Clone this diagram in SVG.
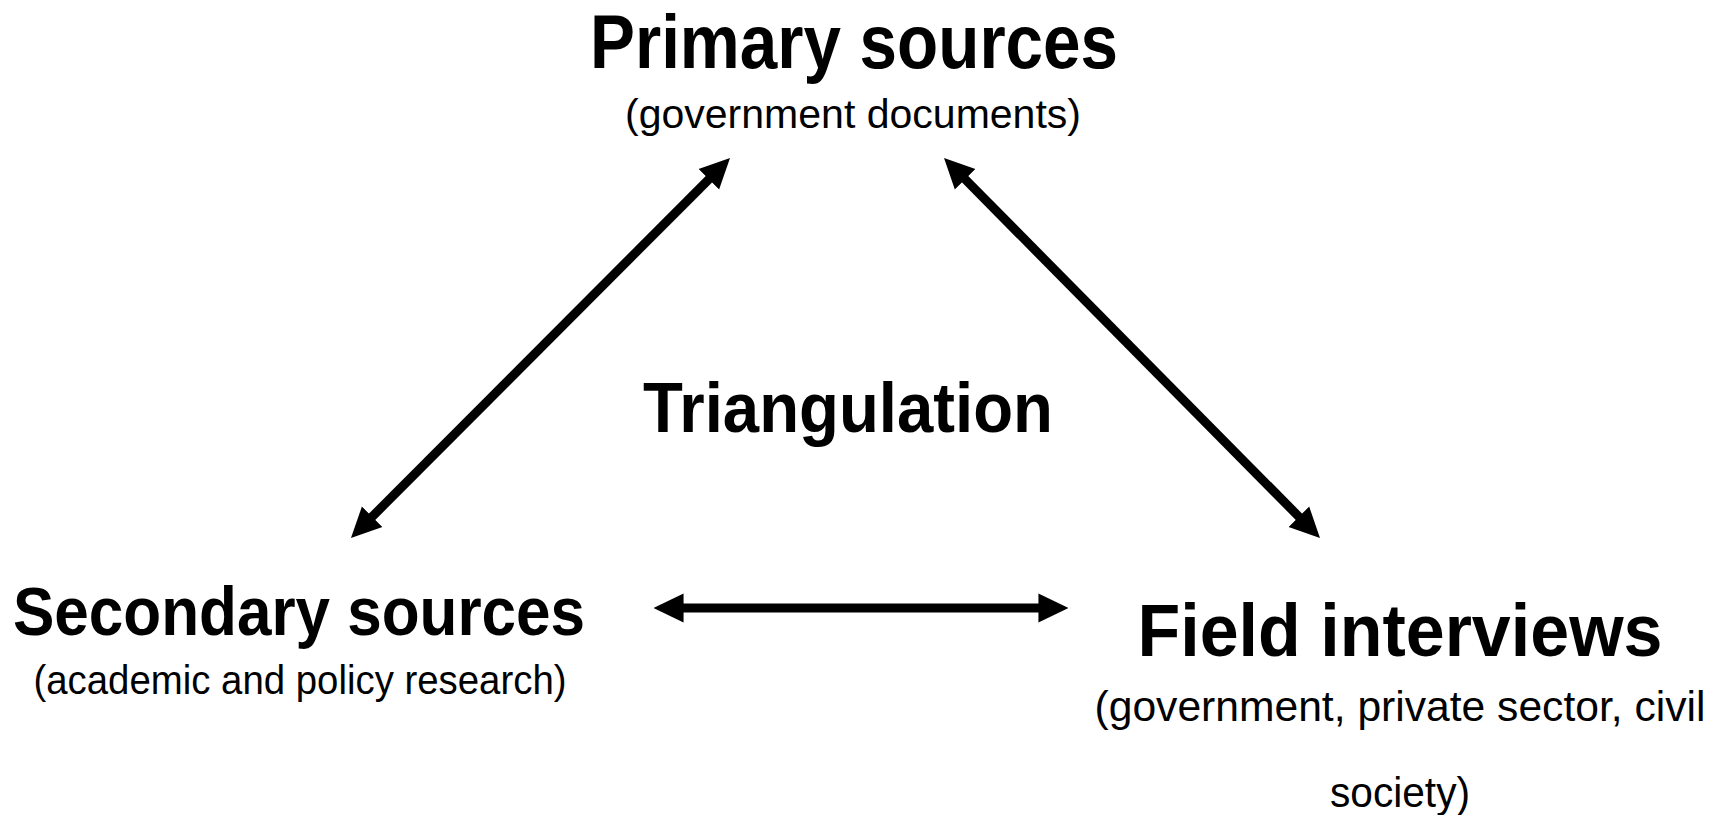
<svg xmlns="http://www.w3.org/2000/svg" width="1723" height="815" viewBox="0 0 1723 815">
<style>
.title{font-family:"Liberation Sans",Arial,sans-serif;font-weight:bold;fill:#000;text-anchor:middle}
.sub{font-family:"Liberation Sans",Arial,sans-serif;fill:#000;text-anchor:middle}
.conn{stroke:#000;stroke-width:9;fill:none;marker-start:url(#ah);marker-end:url(#ah)}
</style>
<defs>
<marker id="ah" markerUnits="userSpaceOnUse" markerWidth="30" markerHeight="30" viewBox="0 0 28 28" refX="8" refY="14" orient="auto-start-reverse">
<path d="M0,0.5 L28,14 L0,27.5 z" fill="#000"/>
</marker>
</defs>
<rect width="1723" height="815" fill="#fff"/>
<g id="connectors">
<line class="conn" x1="714.9" y1="173.2" x2="366.1" y2="522.8"/>
<line class="conn" x1="959.1" y1="173.2" x2="1304.9" y2="522.8"/>
<line class="conn" x1="675" y1="608" x2="1047" y2="608"/>
</g>
<g id="primary">
<text class="title" x="854" y="68" font-size="76" textLength="528" lengthAdjust="spacingAndGlyphs">Primary sources</text>
<text class="sub" x="853" y="128" font-size="40" textLength="456" lengthAdjust="spacingAndGlyphs">(government documents)</text>
</g>
<g id="triangulation">
<text class="title" x="848" y="432" font-size="70" textLength="410" lengthAdjust="spacingAndGlyphs">Triangulation</text>
</g>
<g id="secondary">
<text class="title" x="299" y="635" font-size="68" textLength="572" lengthAdjust="spacingAndGlyphs">Secondary sources</text>
<text class="sub" x="300" y="694" font-size="40" textLength="533" lengthAdjust="spacingAndGlyphs">(academic and policy research)</text>
</g>
<g id="field">
<text class="title" x="1400" y="656" font-size="75" textLength="525" lengthAdjust="spacingAndGlyphs">Field interviews</text>
<text class="sub" x="1400" y="721" font-size="43" textLength="611" lengthAdjust="spacingAndGlyphs">(government, private sector, civil</text>
<text class="sub" x="1400" y="807" font-size="43" textLength="140" lengthAdjust="spacingAndGlyphs">society)</text>
</g>
</svg>
